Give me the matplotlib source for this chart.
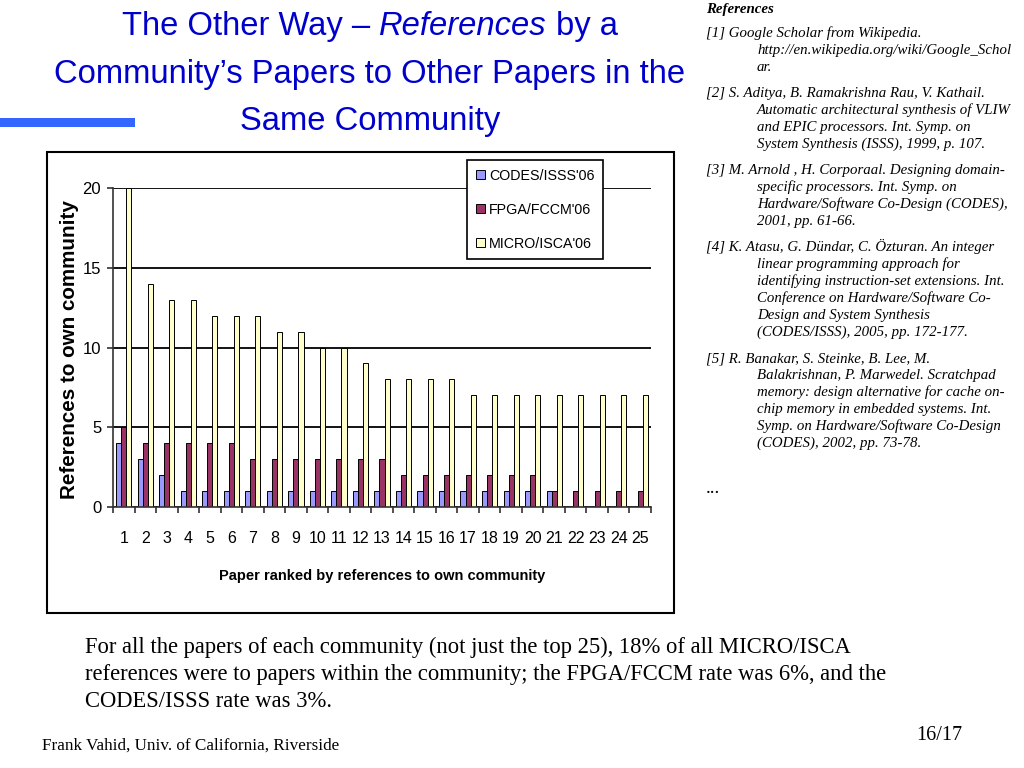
import matplotlib
matplotlib.use('Agg')
import matplotlib.pyplot as plt
import numpy as np
from matplotlib.patches import Rectangle

# chart data
papers = list(range(1, 26))
codes = [4, 3, 2, 1, 1, 1, 1, 1, 1, 1, 1, 1, 1, 1, 1, 1, 1, 1, 1, 1, 1, 0, 0, 0, 0]
fpga = [5, 4, 4, 4, 4, 4, 3, 3, 3, 3, 3, 3, 3, 2, 2, 2, 2, 2, 2, 2, 1, 1, 1, 1, 1]
micro = [20, 14, 13, 13, 12, 12, 12, 11, 11, 10, 10, 9, 8, 8, 8, 8, 7, 7, 7, 7, 7, 7, 7, 7, 7]
series_names = ["CODES/ISSS'06", "FPGA/FCCM'06", "MICRO/ISCA'06"]
yticks = [0, 5, 10, 15, 20]

references = [
    ["[1] Google Scholar from Wikipedia.",
     "http://en.wikipedia.org/wiki/Google_Schol",
     "ar."],
    ["[2] S. Aditya, B. Ramakrishna Rau, V. Kathail.",
     "Automatic architectural synthesis of VLIW",
     "and EPIC processors. Int. Symp. on",
     "System Synthesis (ISSS), 1999, p. 107."],
    ["[3] M. Arnold , H. Corporaal. Designing domain-",
     "specific processors. Int. Symp. on",
     "Hardware/Software Co-Design (CODES),",
     "2001, pp. 61-66."],
    ["[4] K. Atasu, G. Dündar, C. Özturan. An integer",
     "linear programming approach for",
     "identifying instruction-set extensions. Int.",
     "Conference on Hardware/Software Co-",
     "Design and System Synthesis",
     "(CODES/ISSS), 2005, pp. 172-177."],
    ["[5] R. Banakar, S. Steinke, B. Lee, M.",
     "Balakrishnan, P. Marwedel. Scratchpad",
     "memory: design alternative for cache on-",
     "chip memory in embedded systems. Int.",
     "Symp. on Hardware/Software Co-Design",
     "(CODES), 2002, pp. 73-78."],
]

body = ["For all the papers of each community (not just the top 25), 18% of all MICRO/ISCA",
        "references were to papers within the community; the FPGA/FCCM rate was 6%, and the",
        "CODES/ISSS rate was 3%."]

SANS = ['Liberation Sans', 'DejaVu Sans']
SERIF = ['Liberation Serif', 'DejaVu Serif']
BLUE = '#0000CC'

W, H = 1024, 768
def fx(x):
    return x / W
def fy(y):
    return 1 - y / H

fig = plt.figure(figsize=(10.24, 7.68), dpi=100)
r = fig.canvas.get_renderer()

def tw(s, **kw):
    t = fig.text(0, 0, s, **kw)
    w = t.get_window_extent(r).width
    t.remove()
    return w

def fit(s, target, **kw):
    # font size that makes s about target pixels wide
    return 20 * target / tw(s, fontsize=20, **kw)

# title, first line has an italic word
tsize = fit("Community\u2019s Papers to Other Papers in the", 630, family=SANS)
tkw = dict(fontsize=tsize, family=SANS, color=BLUE)
space = tw("a a", **tkw) - tw("aa", **tkw)
parts = [("The Other Way \u2013", 'normal'), ("References", 'italic'), ("by a", 'normal')]
widths = [tw(s, style=st, **tkw) for s, st in parts]
total = sum(widths) + 2 * space
x = 370 - total / 2
for (s, st), w in zip(parts, widths):
    fig.text(fx(x), fy(35), s, style=st, va='baseline', ha='left', **tkw)
    x += w + space
fig.text(fx(370), fy(83), "Community\u2019s Papers to Other Papers in the", ha='center', va='baseline', **tkw)
fig.text(fx(370), fy(130), "Same Community", ha='center', va='baseline', **tkw)

fig.patches.append(Rectangle((0, fy(127)), fx(135), 9 / H, transform=fig.transFigure,
                             color='#3366FF', lw=0))

# chart area border
fig.patches.append(Rectangle((fx(47), fy(613)), (674 - 47) / W, (613 - 152) / H,
                             transform=fig.transFigure, fill=False, ec='black', lw=1.5))

ax = fig.add_axes([fx(113), fy(507), (651 - 113) / W, (507 - 188) / H])
xs = np.array(papers)
w = 0.235
b1 = ax.bar(xs - w, codes, w, color='#9999FF', edgecolor='black', lw=0.7, label=series_names[0])
b2 = ax.bar(xs, fpga, w, color='#993366', edgecolor='black', lw=0.7, label=series_names[1])
b3 = ax.bar(xs + w, micro, w, color='#FFFFCC', edgecolor='black', lw=0.7, label=series_names[2])

ax.set_xlim(0.5, 25.5)
ax.set_ylim(0, 20)
ax.set_yticks(yticks)
ax.yaxis.grid(True, color='black', lw=1.3)
ax.set_axisbelow(True)
for s in ['top', 'right']:
    ax.spines[s].set_visible(False)
for s in ['left', 'bottom']:
    ax.spines[s].set_color('#333333')
    ax.spines[s].set_linewidth(1.2)

ax.set_xticks(papers)
ax.set_xticklabels([str(p) for p in papers], family=SANS, fontsize=11.5)
ax.set_xticks(np.arange(0.5, 26, 1), minor=True)
ax.tick_params(axis='x', which='major', length=0, pad=17)
ax.tick_params(axis='x', which='minor', length=4, width=1.2, direction='out', color='#333333')
ax.tick_params(axis='y', length=4.5, width=1.2, direction='out', color='#333333', pad=4)
for lb in ax.get_yticklabels():
    lb.set_family(SANS)
    lb.set_fontsize(12)

ylab = "References to own community"
ax.set_ylabel(ylab, fontsize=fit(ylab, 300, family=SANS, fontweight='bold'),
              fontweight='bold', family=SANS)
ax.yaxis.set_label_coords(fx(79), fy(350), transform=fig.transFigure)
xlab = "Paper ranked by references to own community"
ax.set_xlabel(xlab, fontsize=fit(xlab, 325, family=SANS, fontweight='bold'),
              fontweight='bold', family=SANS)
ax.xaxis.set_label_coords(fx(382), fy(569), transform=fig.transFigure)

lsize = fit("CODES/ISSS'06", 106, family=SANS)
leg = ax.legend(handles=[b1, b2, b3], loc='upper left',
                bbox_to_anchor=(fx(467), fy(160)), bbox_transform=fig.transFigure,
                prop={'family': SANS, 'size': lsize}, frameon=True, fancybox=False,
                edgecolor='black', framealpha=1, borderpad=0.6, labelspacing=1.4,
                handlelength=0.65, handleheight=0.65, handletextpad=0.3, borderaxespad=0)
leg.get_frame().set_linewidth(1.2)
leg.set_zorder(5)

# references column
rkw = dict(fontsize=10.7, family=SERIF, style='italic', va='baseline')
fig.text(fx(706), fy(13), "References", fontweight='bold', **rkw)
y = 37
for para in references:
    for i, line in enumerate(para):
        fig.text(fx(706 if i == 0 else 757), fy(y), line, **rkw)
        y += 17
    y += 9
fig.text(fx(706), fy(493), "...", fontsize=14, family=SERIF, va='baseline')

# body text and footer
for i, line in enumerate(body):
    fig.text(fx(85), fy(653 + i * 27), line, fontsize=16.3, family=SERIF, va='baseline')
fig.text(fx(42), fy(750), "Frank Vahid, Univ. of California, Riverside", fontsize=12.3,
         family=SERIF, va='baseline')
fig.text(fx(962), fy(740), "16/17", fontsize=14.5, family=SERIF, va='baseline', ha='right')

fig.savefig('out.png', dpi=100)
